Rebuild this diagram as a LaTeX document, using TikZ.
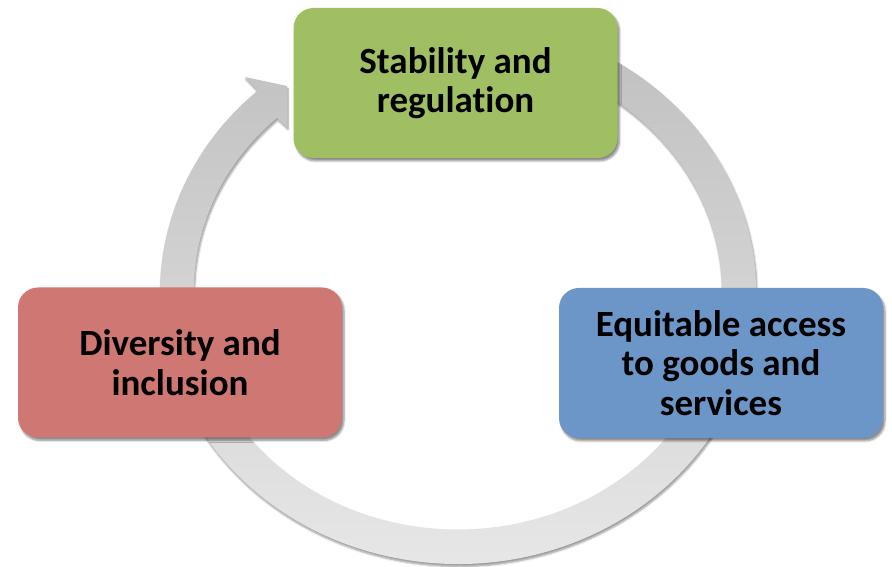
\documentclass[tikz,border=0pt]{standalone}
\usepackage{fontspec}
\setmainfont{Carlito}[Ligatures=NoCommon]
\usetikzlibrary{calc,shadows.blur}
\definecolor{boxgreen}{HTML}{9FBF62}
\definecolor{boxred}{HTML}{CF7773}
\definecolor{boxblue}{HTML}{6C96C8}
\tikzset{
  cyclebox/.style={rounded corners=20pt, minimum width=324pt, minimum height=150pt,
    align=center, inner sep=0pt, text=black,
    font=\fontsize{37}{39.5}\selectfont\bfseries,
    blur shadow={shadow xshift=2pt, shadow yshift=-3pt, shadow blur steps=6, shadow opacity=45}},
  ringstyle/.style={top color=black!25, bottom color=black!9, draw=none,
    blur shadow={shadow xshift=1pt, shadow yshift=-2.5pt, shadow blur steps=5, shadow opacity=40}}
}
\begin{document}
\begin{tikzpicture}[x=1pt,y=1pt]
\useasboundingbox (0,0) rectangle (892,567);
\coordinate (c) at (458,275);
% ring with arrow head
\path[ringstyle] ($(c)+(80:298 and 272)$)
  arc[start angle=80, end angle=-227.8, x radius=298, y radius=272]
  -- (245,490) -- (287,481) -- (287,440) -- (277,449)
  arc[start angle=-226.8, end angle=80, x radius=264, y radius=238] -- cycle;
\node[cyclebox, fill=boxgreen] (stab) at (455.5,484) {Stability and\\regulation};
\node[cyclebox, fill=boxred] (div) at (180,204.5) {Diversity and\\inclusion};
\node[cyclebox, fill=boxblue] (equ) at (721,204) {Equitable access\\to goods and\\services};
\end{tikzpicture}
\end{document}
